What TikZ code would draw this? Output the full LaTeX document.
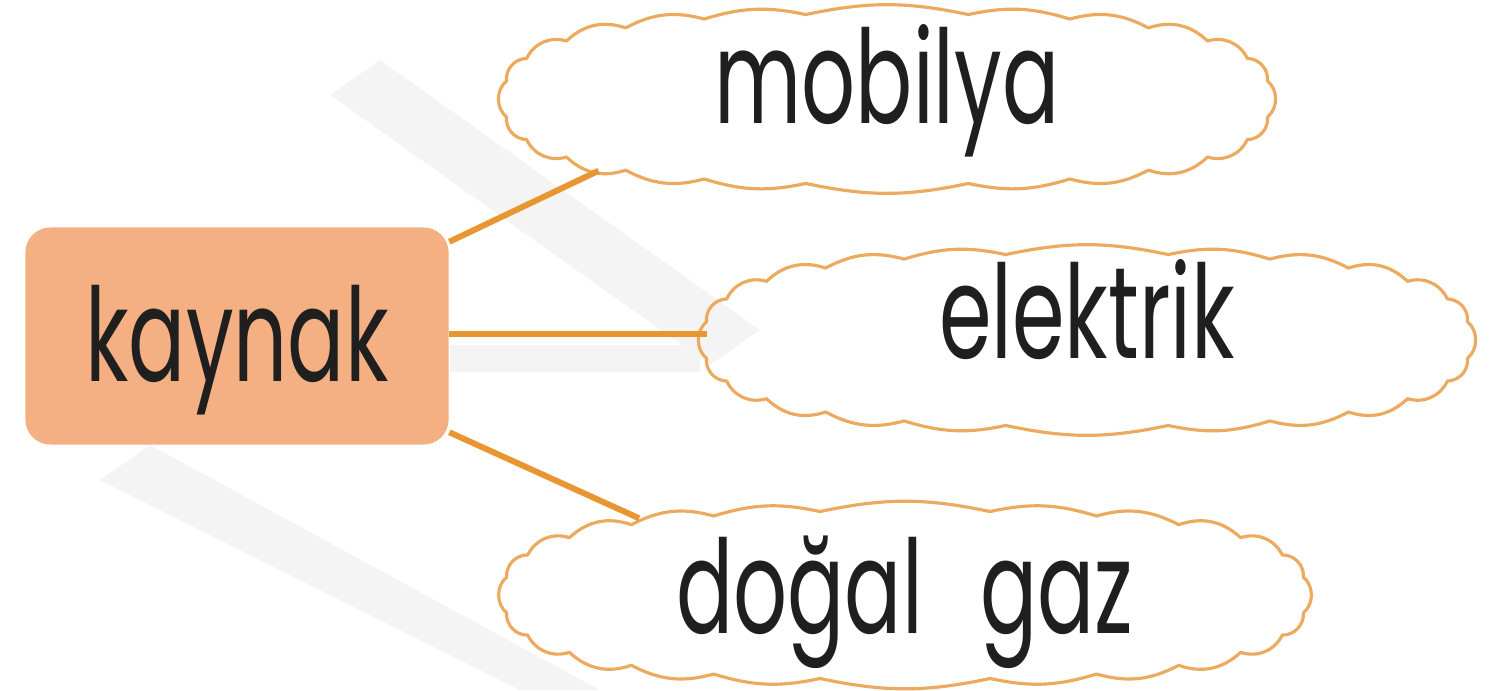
\documentclass[tikz,border=0pt]{standalone}
\usepackage{fontspec}
\setmainfont{Poppins}[FakeStretch=0.65]
\usetikzlibrary{positioning}

\definecolor{boxfill}{RGB}{244,175,130}
\definecolor{linkline}{RGB}{232,150,50}
\definecolor{cloudline}{RGB}{236,170,95}
\definecolor{wmark}{RGB}{244,244,244}

\tikzset{
  word/.style={font=\fontsize{37}{44}\selectfont, text=black!88, text height=0.91cm},
  source/.style={word, fill=boxfill, rounded corners=0.25cm, text depth=0cm,
    minimum width=4.23cm, minimum height=2.17cm},
  bubble/.style={word, inner sep=0pt, minimum width=7.75cm, minimum height=1.78cm},
  puff/.style={draw=cloudline, line width=0.9pt, line cap=round, line join=round},
  link/.style={draw=linkline, line width=1.7pt},
}

% scalloped outline round a node: #1 node, #2 half width, #3 half height
\newcommand\puffline[3]{%
  \begin{scope}[shift={(#1.center)}]
    \draw[puff] ({#2*pow(cos(7.5),0.77)},{#3*pow(sin(7.5),0.77)})
      \foreach \t [evaluate=\t as \b using {12+38*pow(abs(cos(\t-7.5)),2)}] in {22.5,37.5,...,367.5}
        { to[bend left=\b] ({#2*sign(cos(\t))*pow(abs(cos(\t)),0.77)},{#3*sign(sin(\t))*pow(abs(sin(\t)),0.77)}) };
  \end{scope}}

\begin{document}
\begin{tikzpicture}[x=0.01cm,y=-0.01cm]
    \useasboundingbox (0,0) rectangle (1491,690);
    % faint stripes behind
    \fill[wmark] (330,95) -- (380,60) -- (760,330) -- (710,365) -- cycle;
    \fill[wmark] (100,480) -- (150,445) -- (600,690) -- (520,690) -- cycle;
    \fill[wmark] (450,345) -- (700,345) -- (700,372) -- (450,372) -- cycle;

    \node[source] (kaynak) at (237,336) {kaynak};
    \node[bubble, text depth=0.43cm] (mobilya) at (887,99) {mobilya};
    \node[bubble, text depth=0.55cm] (elektrik) at (1087,340) {elektrik};
    \node[bubble, text depth=0.15cm, minimum width=8.1cm] (gaz) at (905,595) {doğal \hspace{0.27em}gaz};

    \puffline{mobilya}{383}{85}
    \puffline{elektrik}{383}{86}
    \puffline{gaz}{401}{84}

    \draw[link] (kaynak.north east) ++(0,15) -- ([shift={(100,-18)}]mobilya.south west);
    \draw[link] (kaynak.east |- elektrik.west) ++(0,-6) -- ([shift={(8,-6)}]elektrik.west);
    \draw[link] (kaynak.south east) ++(0,-13) -- ([shift={(140,13)}]gaz.north west);
\end{tikzpicture}
\end{document}
